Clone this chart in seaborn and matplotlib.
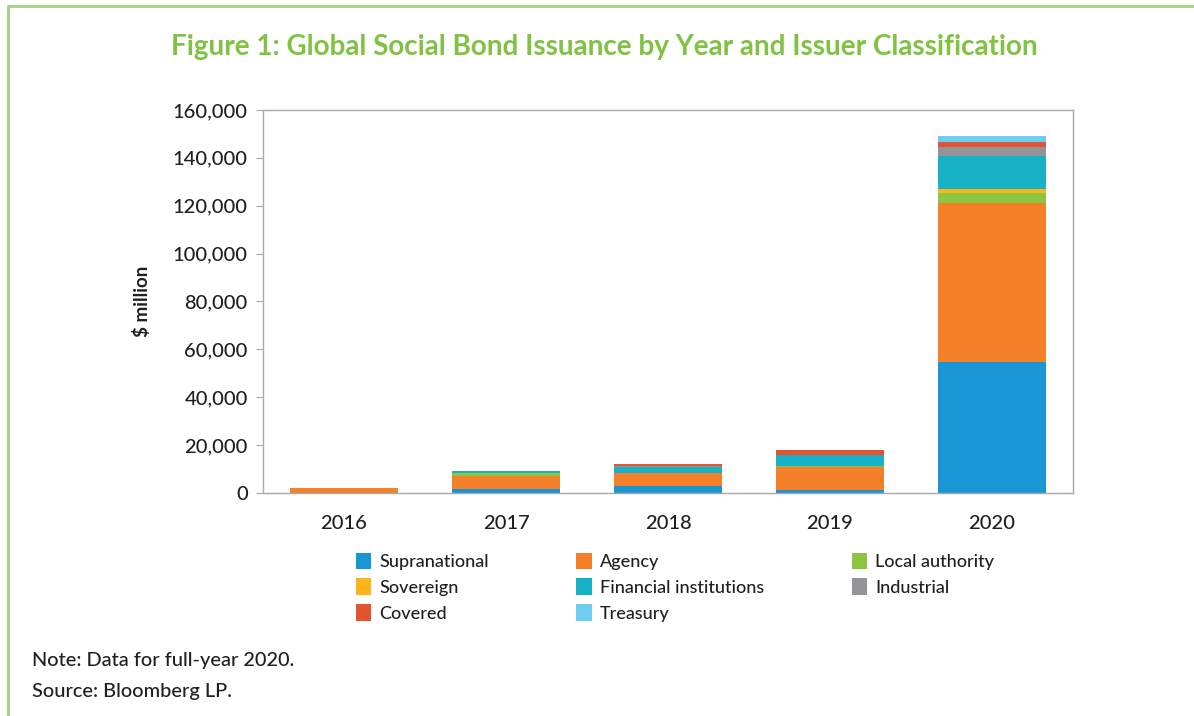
import matplotlib
matplotlib.use("Agg")
import matplotlib.pyplot as plt
from matplotlib.patches import Patch
from matplotlib.lines import Line2D
import numpy as np
import pandas as pd
import seaborn as sns

# Issuance by year and issuer type, $ million
years = ["2016", "2017", "2018", "2019", "2020"]
supranational = [0, 1500, 2800, 1200, 54700]
agency = [1900, 5600, 5600, 9500, 66400]
local_authority = [0, 1100, 0, 500, 4200]
sovereign = [0, 0, 0, 0, 1500]
financial_institutions = [0, 1100, 2300, 4500, 14100]
industrial = [0, 0, 700, 0, 3500]
covered = [0, 0, 800, 2200, 2400]
treasury = [0, 0, 0, 0, 2500]

series_names = ["Supranational", "Agency", "Local authority", "Sovereign",
                "Financial institutions", "Industrial", "Covered", "Treasury"]
series_values = [supranational, agency, local_authority, sovereign,
                 financial_institutions, industrial, covered, treasury]
series_colors = ["#1a96d5", "#f4812a", "#8cc540", "#fbb419",
                 "#17b2c6", "#949598", "#e4532f", "#6fcdf2"]

y_ticks = [0, 20000, 40000, 60000, 80000, 100000, 120000, 140000, 160000]

sns.set_theme(style="white")
plt.rcParams["font.family"] = ["Lato", "DejaVu Sans"]

text_color = "#231f20"
title_color = "#80c242"
frame_color = "#a9a9a9"
body_weight = "medium"

fig = plt.figure(figsize=(11.94, 7.16), dpi=100)
ax = fig.add_axes([0.2203, 0.3115, 0.6784, 0.535])

# stacked bars: draw cumulative totals from the top layer down
df = pd.DataFrame({name: vals for name, vals in zip(series_names, series_values)})
df["year"] = years
cum = df[series_names].cumsum(axis=1)
for name, color in reversed(list(zip(series_names, series_colors))):
    sns.barplot(x=df["year"], y=cum[name], order=years, color=color,
                saturation=1, width=0.667, linewidth=0, ax=ax)

ax.set_xlim(-0.5, 4.5)
ax.set_ylim(0, 160000)
ax.set_yticks(y_ticks)
ax.set_yticklabels([f"{v:,}" for v in y_ticks])
ax.set_xlabel("")
ax.set_ylabel("$ million", fontsize=13.5, fontweight="bold", color=text_color,
              labelpad=16)

for side in ["left", "right", "top", "bottom"]:
    ax.spines[side].set_visible(True)
    ax.spines[side].set_color(frame_color)
    ax.spines[side].set_linewidth(1.0)

ax.tick_params(axis="y", which="both", left=True, length=5, width=0.8,
               color=frame_color, labelsize=14.5, labelcolor=text_color, pad=6)
ax.tick_params(axis="x", which="both", bottom=False, labelsize=14.5,
               labelcolor=text_color, pad=10)
for lbl in ax.get_xticklabels() + ax.get_yticklabels():
    lbl.set_fontweight(body_weight)

# legend laid out row by row across three columns
handles = [Patch(facecolor=c, edgecolor="none", label=n)
           for n, c in zip(series_names, series_colors)]
order = [0, 3, 6, 1, 4, 7, 2, 5]
leg = fig.legend([handles[i] for i in order], [series_names[i] for i in order],
                 ncol=3, loc="upper left", bbox_to_anchor=(0.298, 0.228),
                 frameon=False, prop={"size": 13, "weight": body_weight},
                 handlelength=0.85, handleheight=1.05,
                 handletextpad=0.45, columnspacing=4.85, labelspacing=0.45,
                 borderaxespad=0, borderpad=0)
for t in leg.get_texts():
    t.set_color(text_color)

fig.text(0.506, 0.935, "Figure 1: Global Social Bond Issuance by Year and Issuer Classification",
         ha="center", va="center", fontsize=20.1, fontweight="bold", color=title_color)

fig.text(0.027, 0.077, "Note: Data for full-year 2020.", ha="left", va="center",
         fontsize=14.4, fontweight=body_weight, color=text_color)
fig.text(0.027, 0.034, "Source: Bloomberg LP.", ha="left", va="center",
         fontsize=14.4, fontweight=body_weight, color=text_color)

# green frame along the top and left edges
border = "#a8cf7e"
fig.add_artist(Line2D([0.0067, 1.0], [0.9915, 0.9915], color=border, lw=2,
                      transform=fig.transFigure))
fig.add_artist(Line2D([0.0067, 0.0067], [0.0, 0.9915], color=border, lw=2,
                      transform=fig.transFigure))

fig.savefig("out.png", dpi=100, facecolor="white")
